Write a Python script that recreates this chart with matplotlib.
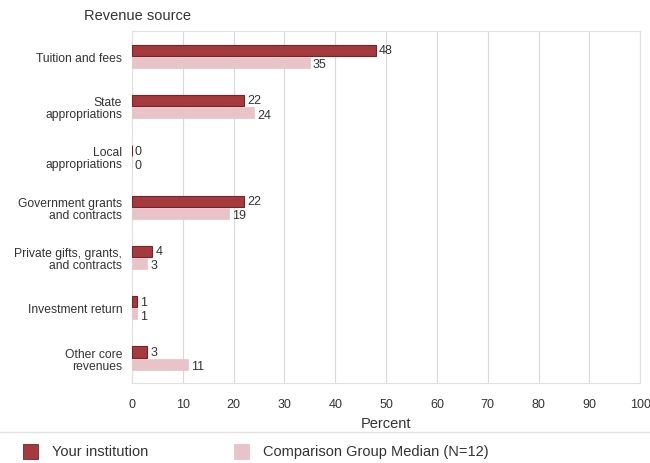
import matplotlib
matplotlib.use("Agg")
import matplotlib.pyplot as plt
import numpy as np

plt.rcParams['font.family'] = ['Liberation Sans', 'DejaVu Sans']

categories = [
    "Tuition and fees",
    "State\nappropriations",
    "Local\nappropriations",
    "Government grants\nand contracts",
    "Private gifts, grants,\nand contracts",
    "Investment return",
    "Other core\nrevenues",
]
your_institution = [48, 22, 0, 22, 4, 1, 3]
comparison_median = [35, 24, 0, 19, 3, 1, 11]
x_ticks = [0, 10, 20, 30, 40, 50, 60, 70, 80, 90, 100]

red = "#a53a3e"
red_edge = "#7c2227"
pink = "#e8c4c8"
grid_c = "#d9d9d9"
text_c = "#333333"

fig = plt.figure(figsize=(6.5, 4.64), dpi=100)
fig.patch.set_facecolor("white")
ax = fig.add_axes([0.203, 0.172, 0.782, 0.759])

y = np.arange(len(categories))
h = 0.22
off = 0.12
ax.barh(y - off, your_institution, height=h, color=red, edgecolor=red_edge, linewidth=0.8, zorder=3)
ax.barh(y + off, comparison_median, height=h, color=pink, edgecolor=pink, linewidth=0.5, zorder=3)

for yi, v in zip(y, your_institution):
    ax.text(v + 0.6, yi - off, str(v), va="center", ha="left", fontsize=9, color=text_c)
for yi, v in zip(y, comparison_median):
    ax.text(v + 0.6, yi + off + 0.04, str(v), va="center", ha="left", fontsize=9, color=text_c)

ax.set_xlim(0, 100)
ax.set_ylim(len(categories) - 0.5, -0.5)
ax.set_xticks(x_ticks)
ax.set_xticklabels([str(t) for t in x_ticks], fontsize=9, color=text_c)
ax.set_yticks(y)
ax.set_yticklabels(categories, fontsize=8.7, color=text_c, linespacing=1.0)
ax.tick_params(axis="x", length=0, pad=11)
ax.tick_params(axis="y", length=0, pad=7)
ax.xaxis.grid(True, color=grid_c, linewidth=0.8, zorder=0)
ax.yaxis.grid(False)
for s in ax.spines.values():
    s.set_color("#e0e0e0")
    s.set_linewidth(0.8)
ax.set_xlabel("Percent", fontsize=10.5, color=text_c, labelpad=4)

fig.text(137 / 650, 1 - 16 / 464, "Revenue source", fontsize=10.5, color=text_c, ha="center", va="center")

# legend row below a separator line
fig.add_artist(plt.Line2D([0.0, 1.0], [1 - 433 / 464, 1 - 433 / 464], color="#e2e2e2", linewidth=1.0))
fig.add_artist(plt.Rectangle((23 / 650, 1 - 460 / 464), 15 / 650, 15 / 464, facecolor=red, edgecolor=red_edge, linewidth=0.6))
fig.text(52 / 650, 1 - 452 / 464, "Your institution", fontsize=10.5, color=text_c, va="center", ha="left")
fig.add_artist(plt.Rectangle((234 / 650, 1 - 460 / 464), 15 / 650, 15 / 464, facecolor=pink, edgecolor=pink, linewidth=0.6))
fig.text(263 / 650, 1 - 452 / 464, "Comparison Group Median (N=12)", fontsize=10.5, color=text_c, va="center", ha="left")

fig.savefig("out.png", dpi=100, facecolor="white")
